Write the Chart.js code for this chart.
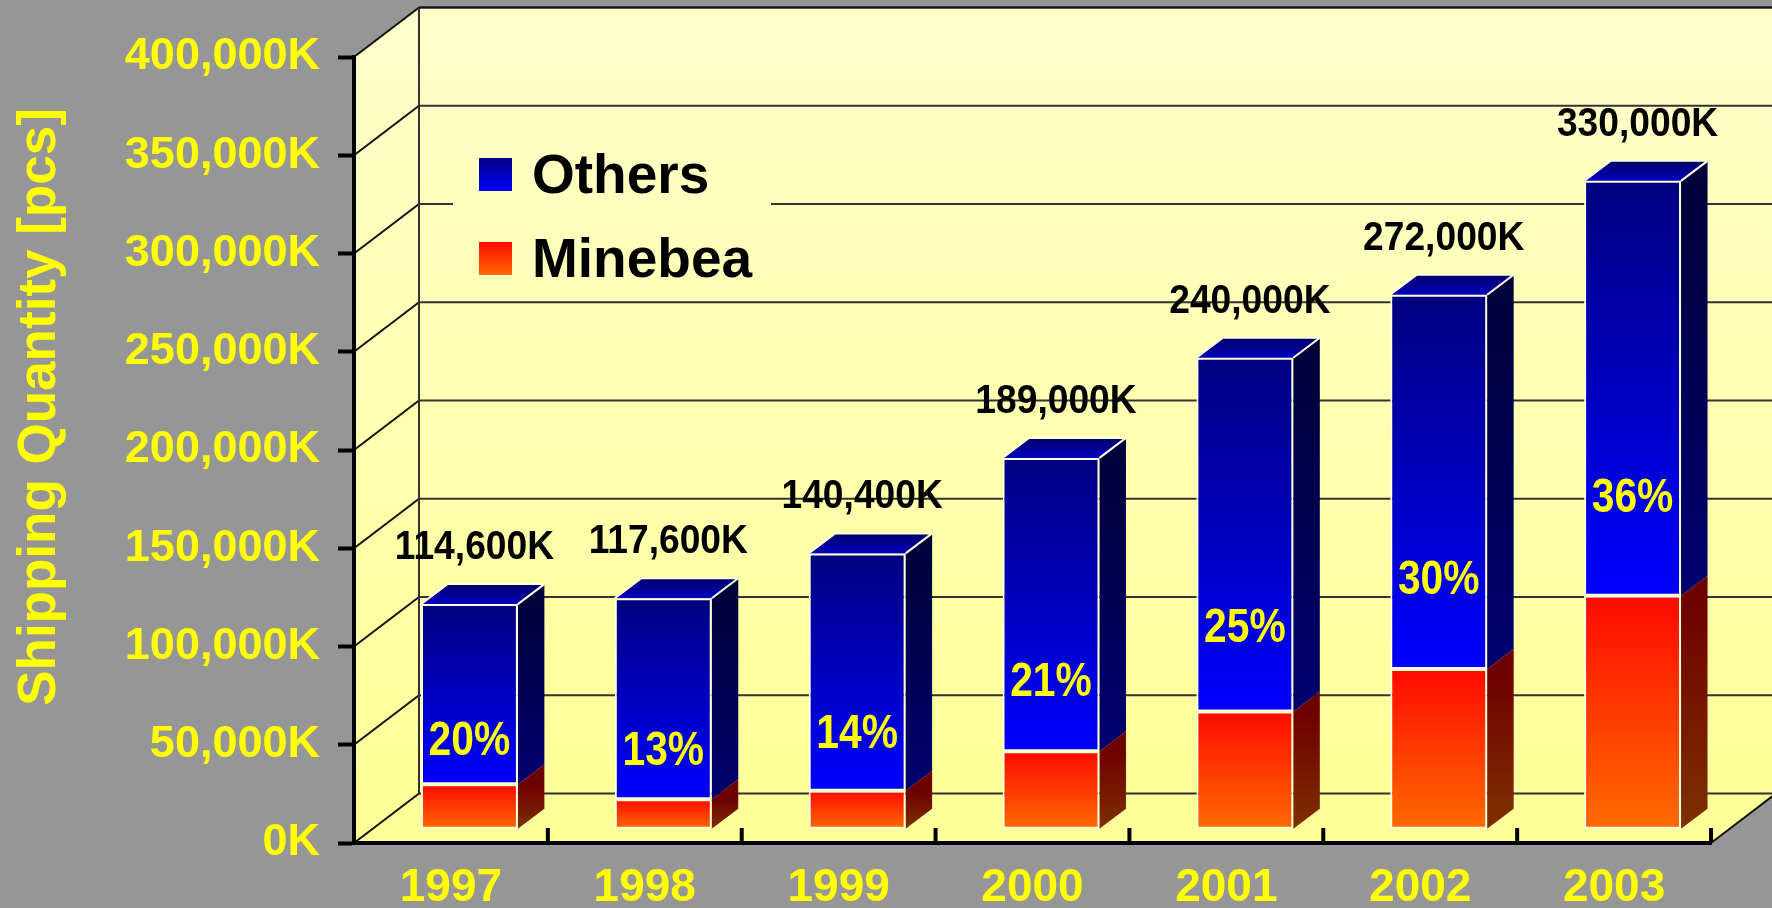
<!DOCTYPE html>
<html>
<head>
<meta charset="utf-8">
<title>Shipping Quantity</title>
<script src="https://cdn.jsdelivr.net/npm/chart.js@4.4.1/dist/chart.umd.min.js"></script>
<style>
    html, body { margin: 0; padding: 0; background: #969696; }
    #wrap { width: 1772px; height: 908px; }
</style>
</head>
<body>
<div id="wrap"><canvas id="shipChart" width="1772" height="908"></canvas></div>
<script>
const years = ['1997', '1998', '1999', '2000', '2001', '2002', '2003'];
const minebea = [22920, 15288, 19656, 39690, 60000, 81600, 118800];
const others = [91680, 102312, 120744, 149310, 180000, 190400, 211200];
const totals = [114600, 117600, 140400, 189000, 240000, 272000, 330000];
const shares = [20, 13, 14, 21, 25, 30, 36];
const yTicks = [0, 50000, 100000, 150000, 200000, 250000, 300000, 350000, 400000];

const FONT = "'Liberation Sans', Arial, sans-serif";
// depth offsets of the fake 3D box
const WALL_DX = 65, WALL_DY = -49.5;
const BAR_DX = 18.5, BAR_DY = -13.7;
const BOX_DX = 26.5, BOX_DY = -20;

function fmtK(v) {
    return v.toLocaleString('en-US') + 'K';
}

function vGrad(ctx, y0, y1, c0, c1) {
    if (!isFinite(y0) || !isFinite(y1) || y0 === y1) return c1;
    const g = ctx.createLinearGradient(0, y0, 0, y1);
    g.addColorStop(0, c0);
    g.addColorStop(1, c1);
    return g;
}

// narrow bold text, like the condensed face of the original
function narrowText(ctx, text, x, y, size, sx) {
    ctx.save();
    ctx.translate(x, y);
    ctx.scale(sx, 1);
    ctx.font = 'bold ' + size + 'px ' + FONT;
    ctx.fillText(text, 0, 0);
    ctx.restore();
}

function frontFill(c, isOthers) {
    const ys = c.chart.scales.y;
    if (!ys || c.dataIndex === undefined) return isOthers ? '#0000C0' : '#FF3300';
    const i = c.dataIndex;
    if (isOthers) {
        return vGrad(c.chart.ctx, ys.getPixelForValue(minebea[i] + others[i]), ys.getPixelForValue(minebea[i]), '#000080', '#0000FF');
    }
    return vGrad(c.chart.ctx, ys.getPixelForValue(minebea[i]), ys.getPixelForValue(0), '#FF0A00', '#FF6A00');
}

const boxPlugin = {
    id: 'box3d',
    beforeDraw(chart) {
        const ctx = chart.ctx;
        const a = chart.chartArea;
        const ys = chart.scales.y;
        ctx.save();
        ctx.fillStyle = '#969696';
        ctx.fillRect(0, 0, chart.width, chart.height);

        const wallGrad = vGrad(ctx, a.top + WALL_DY, a.bottom + WALL_DY, '#FFFFCC', '#FFFF99');
        // back wall + left wall
        ctx.fillStyle = wallGrad;
        ctx.fillRect(a.left + WALL_DX, a.top + WALL_DY, chart.width, a.bottom - a.top);
        ctx.beginPath();
        ctx.moveTo(a.left, a.top);
        ctx.lineTo(a.left + WALL_DX, a.top + WALL_DY);
        ctx.lineTo(a.left + WALL_DX, a.bottom + WALL_DY);
        ctx.lineTo(a.left, a.bottom);
        ctx.closePath();
        ctx.fill();
        // floor
        ctx.fillStyle = '#FFFF99';
        ctx.beginPath();
        ctx.moveTo(a.left, a.bottom);
        ctx.lineTo(a.left + WALL_DX, a.bottom + WALL_DY);
        ctx.lineTo(a.right + WALL_DX, a.bottom + WALL_DY);
        ctx.lineTo(a.right, a.bottom);
        ctx.closePath();
        ctx.fill();

        // gridlines on back wall and diagonals on side wall
        yTicks.forEach(v => {
            const y = ys.getPixelForValue(v);
            ctx.strokeStyle = '#333333';
            ctx.lineWidth = 2;
            ctx.beginPath();
            ctx.moveTo(a.left + WALL_DX, y + WALL_DY);
            ctx.lineTo(chart.width, y + WALL_DY);
            ctx.stroke();
            ctx.strokeStyle = '#111111';
            ctx.beginPath();
            ctx.moveTo(a.left, y);
            ctx.lineTo(a.left + WALL_DX, y + WALL_DY);
            ctx.stroke();
        });
        ctx.strokeStyle = '#333333';
        ctx.lineWidth = 2;
        ctx.beginPath();
        ctx.moveTo(a.left + WALL_DX, a.top + WALL_DY);
        ctx.lineTo(a.left + WALL_DX, a.bottom + WALL_DY);
        ctx.stroke();
        ctx.strokeStyle = '#111111';
        ctx.beginPath();
        ctx.moveTo(a.left + WALL_DX, a.top + WALL_DY);
        ctx.lineTo(chart.width, a.top + WALL_DY);
        ctx.stroke();
        ctx.beginPath();
        ctx.moveTo(a.right, a.bottom);
        ctx.lineTo(a.right + WALL_DX, a.bottom + WALL_DY);
        ctx.stroke();

        // legend on the back wall
        ctx.fillStyle = wallGrad;
        ctx.fillRect(453, 118, 318, 172);
        const items = [
            { label: chart.data.datasets[1].label, c0: '#000080', c1: '#0000FF', y: 158 },
            { label: chart.data.datasets[0].label, c0: '#FF0A00', c1: '#FF6A00', y: 242 }
        ];
        items.forEach(it => {
            ctx.fillStyle = vGrad(ctx, it.y, it.y + 33, it.c0, it.c1);
            ctx.fillRect(479, it.y, 33, 33);
            ctx.fillStyle = '#000000';
            ctx.font = 'bold 55px ' + FONT;
            ctx.textAlign = 'left';
            ctx.textBaseline = 'alphabetic';
            ctx.fillText(it.label, 532, it.y + 35);
        });
        ctx.restore();
    },
    beforeDatasetsDraw(chart) {
        const ctx = chart.ctx;
        ctx.save();
        ctx.translate(BAR_DX, BAR_DY);
        // side and top faces of each bar
        chart.data.datasets.forEach((ds, di) => {
            const meta = chart.getDatasetMeta(di);
            meta.data.forEach(el => {
                const p = el.getProps(['x', 'y', 'base', 'width'], true);
                const left = p.x - p.width / 2, right = p.x + p.width / 2;
                const top = Math.min(p.y, p.base), bottom = Math.max(p.y, p.base);
                ctx.fillStyle = di === 1
                    ? vGrad(ctx, top, bottom, '#00003A', '#000070')
                    : vGrad(ctx, top, bottom, '#6E0000', '#7E3000');
                ctx.beginPath();
                ctx.moveTo(right, top);
                ctx.lineTo(right + BOX_DX, top + BOX_DY);
                ctx.lineTo(right + BOX_DX, bottom + BOX_DY);
                ctx.lineTo(right, bottom);
                ctx.closePath();
                ctx.fill();
                if (di === 1) {
                    ctx.fillStyle = vGrad(ctx, top + BOX_DY, top, '#000066', '#0000C0');
                    ctx.beginPath();
                    ctx.moveTo(left, top);
                    ctx.lineTo(left + BOX_DX, top + BOX_DY);
                    ctx.lineTo(right + BOX_DX, top + BOX_DY);
                    ctx.lineTo(right, top);
                    ctx.closePath();
                    ctx.fill();
                    ctx.strokeStyle = '#FFFFE0';
                    ctx.lineWidth = 2;
                    ctx.beginPath();
                    ctx.moveTo(left, top);
                    ctx.lineTo(left + BOX_DX, top + BOX_DY);
                    ctx.lineTo(right + BOX_DX, top + BOX_DY);
                    ctx.moveTo(right, top);
                    ctx.lineTo(right + BOX_DX, top + BOX_DY);
                    ctx.stroke();
                }
            });
        });
    },
    afterDatasetsDraw(chart) {
        const ctx = chart.ctx;
        ctx.restore();
        ctx.save();
        const ys = chart.scales.y;
        const xs = chart.scales.x;
        const a = chart.chartArea;
        const top = chart.getDatasetMeta(1);

        ctx.textAlign = 'center';
        ctx.textBaseline = 'middle';
        top.data.forEach((el, i) => {
            ctx.fillStyle = '#000000';
            narrowText(ctx, fmtK(totals[i]), el.x + BAR_DX + 5, el.y + BAR_DY - 56, 40, 0.93);
            ctx.fillStyle = '#FFFF00';
            const py = ys.getPixelForValue(minebea[i] + others[i] * 0.235) + BAR_DY;
            narrowText(ctx, shares[i] + '%', el.x + BAR_DX, py, 48, 0.85);
        });

        // category boundary ticks on the floor edge
        ctx.strokeStyle = '#000000';
        ctx.lineWidth = 4;
        for (let k = 1; k <= years.length; k++) {
            const x = xs.getPixelForValue(k - 0.5);
            ctx.beginPath();
            ctx.moveTo(x, a.bottom);
            ctx.lineTo(x, a.bottom - 15);
            ctx.stroke();
        }

        // axis title
        ctx.translate(40, 407);
        ctx.rotate(-Math.PI / 2);
        ctx.fillStyle = '#FFFF00';
        ctx.font = 'bold 53px ' + FONT;
        ctx.fillText('Shipping Quantity [pcs]', 0, 0);
        ctx.restore();
    }
};

const shipChart = new Chart(document.getElementById('shipChart'), {
    type: 'bar',
    data: {
        labels: years,
        datasets: [
            {
                label: 'Minebea',
                data: minebea,
                backgroundColor: c => frontFill(c, false),
                borderColor: '#FFFFE0',
                borderWidth: 2,
                borderSkipped: false
            },
            {
                label: 'Others',
                data: others,
                backgroundColor: c => frontFill(c, true),
                borderColor: '#FFFFE0',
                borderWidth: 2,
                borderSkipped: false
            }
        ]
    },
    options: {
        responsive: false,
        animation: false,
        devicePixelRatio: 1,
        barPercentage: 0.5,
        categoryPercentage: 1.0,
        layout: { padding: { left: 0, right: 61, top: 57, bottom: 0 } },
        plugins: {
            legend: { display: false },
            tooltip: { enabled: false }
        },
        scales: {
            x: {
                stacked: true,
                grid: { display: false },
                border: { display: true, color: '#000000', width: 4 },
                ticks: {
                    color: '#FFFF00',
                    font: { family: FONT, size: 46, weight: 'bold' },
                    padding: 10
                },
                afterFit(scale) { scale.height = 65; }
            },
            y: {
                stacked: true,
                min: 0,
                max: 400000,
                grid: {
                    drawOnChartArea: false,
                    drawTicks: true,
                    tickLength: 16,
                    tickWidth: 4,
                    tickColor: '#000000'
                },
                border: { display: true, color: '#000000', width: 4 },
                ticks: {
                    stepSize: 50000,
                    color: '#FFFF00',
                    font: { family: FONT, size: 45, weight: 'bold' },
                    padding: 18,
                    callback: v => fmtK(v)
                },
                afterFit(scale) { scale.width = 354; }
            }
        }
    },
    plugins: [boxPlugin]
});
</script>
</body>
</html>
